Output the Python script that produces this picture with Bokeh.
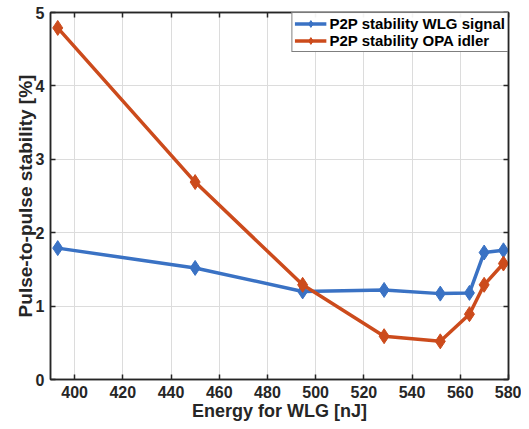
from bokeh.plotting import figure
from bokeh.models import Range1d, LinearAxis, FixedTicker, Legend, LegendItem
from bokeh.embed import file_html
from bokeh.resources import INLINE

energy = [393, 450, 494.6, 528.4, 551.7, 563.8, 569.9, 577.9]
wlg_signal = [1.79, 1.52, 1.20, 1.22, 1.17, 1.18, 1.73, 1.76]
opa_idler = [4.79, 2.69, 1.29, 0.59, 0.52, 0.89, 1.29, 1.58]
x_ticks = [400, 420, 440, 460, 480, 500, 520, 540, 560, 580]
y_ticks = [0, 1, 2, 3, 4, 5]

BLUE = "#3a72c4"
RED = "#cc4b1c"
AX = "#262626"
FONT = "Liberation Sans"

p = figure(width=521, height=429, output_backend="svg", toolbar_location=None,
           x_range=Range1d(390, 580), y_range=Range1d(0, 5),
           min_border_left=50, min_border_right=13, min_border_top=12, min_border_bottom=50)
p.background_fill_color = "white"
p.outline_line_color = AX
p.outline_line_width = 1.5

for ax in (p.xaxis, p.yaxis):
    ax.major_tick_in = 5
    ax.major_tick_out = 0
    ax.minor_tick_line_color = None
    ax.axis_line_color = AX
    ax.axis_line_width = 1.5
    ax.major_tick_line_color = AX
    ax.major_tick_line_width = 1.5
    ax.major_label_text_font = FONT
    ax.major_label_text_font_style = "bold"
    ax.major_label_text_font_size = "16px"
    ax.major_label_text_color = AX
    ax.axis_label_text_font = FONT
    ax.axis_label_text_font_style = "bold"
    ax.axis_label_text_color = AX
p.xaxis.axis_label_text_font_size = "18px"
p.yaxis.axis_label_text_font_size = "19px"
p.xaxis.ticker = FixedTicker(ticks=x_ticks)
p.yaxis.ticker = FixedTicker(ticks=y_ticks)
p.xaxis.axis_label = "Energy for WLG [nJ]"
p.yaxis.axis_label = "Pulse-to-pulse stability [%]"
p.xaxis.major_label_standoff = 6
p.yaxis.major_label_standoff = 6
p.xaxis.axis_label_standoff = 0
p.yaxis.axis_label_standoff = -3

for loc, tk in (("right", y_ticks), ("above", x_ticks)):
    a = LinearAxis(ticker=FixedTicker(ticks=tk), major_label_text_color=None,
                   major_label_text_font_size="1px",
                   major_tick_in=5, major_tick_out=0, minor_tick_line_color=None,
                   axis_line_color=AX, axis_line_width=1.5, major_tick_line_color=AX,
                   major_tick_line_width=1.5, major_label_standoff=0)
    p.add_layout(a, loc)

p.xgrid.grid_line_color = "#dcdcdc"
p.ygrid.grid_line_color = "#dcdcdc"
p.xgrid.ticker = FixedTicker(ticks=x_ticks)
p.ygrid.ticker = FixedTicker(ticks=y_ticks)

l1 = p.line(energy, wlg_signal, line_color=BLUE, line_width=3.5)
s1 = p.scatter(energy, wlg_signal, marker="diamond", size=15, fill_color=BLUE, line_color=BLUE)
l2 = p.line(energy, opa_idler, line_color=RED, line_width=3.5)
s2 = p.scatter(energy, opa_idler, marker="diamond", size=15, fill_color=RED, line_color=RED)

legend = Legend(items=[LegendItem(label="P2P stability WLG signal", renderers=[l1, s1]),
                       LegendItem(label="P2P stability OPA idler", renderers=[l2, s2])],
                location="top_right", margin=0, padding=2, spacing=0,
                border_line_color="#000000", border_line_width=1.5,
                label_text_font=FONT, label_text_font_style="bold",
                label_text_font_size="15px", label_text_color="#000000",
                glyph_width=32, glyph_height=17, label_height=17, label_standoff=3)
p.add_layout(legend, "center")

open("out.html", "w").write(file_html(p, INLINE))
